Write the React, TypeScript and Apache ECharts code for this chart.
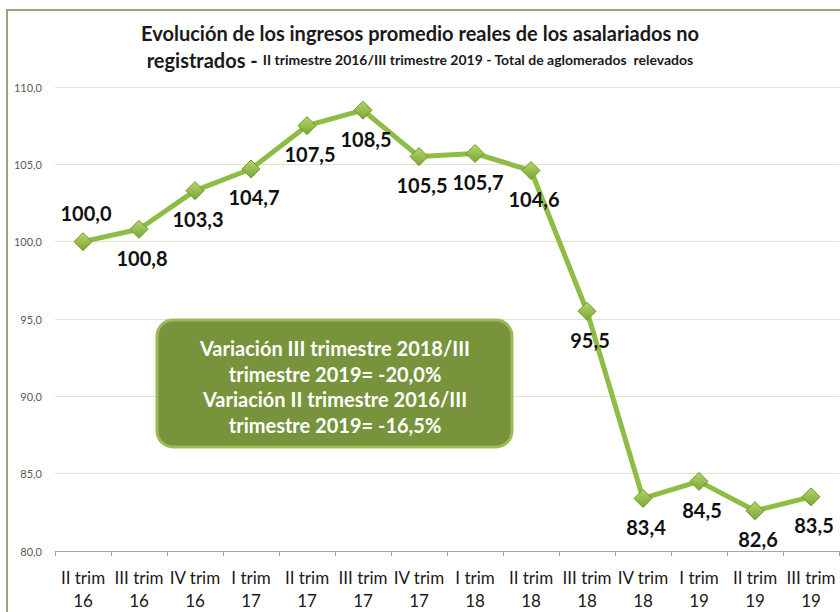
import React, { useEffect, useRef } from "react";
import * as echarts from "echarts";

const categories = [
  "II trim\n16", "III trim\n16", "IV trim\n16", "I trim\n17", "II trim\n17", "III trim\n17", "IV trim\n17",
  "I trim\n18", "II trim\n18", "III trim\n18", "IV trim\n18", "I trim\n19", "II trim\n19", "III trim\n19",
];
const values = [100.0, 100.8, 103.3, 104.7, 107.5, 108.5, 105.5, 105.7, 104.6, 95.5, 83.4, 84.5, 82.6, 83.5];
// label placement (position of each value label)
const labelPos = ["top", "bottom", "bottom", "bottom", "bottom", "bottom", "bottom", "bottom", "bottom", "bottom", "bottom", "bottom", "bottom", "bottom"];

const titleLine1 = "Evolución de los ingresos promedio reales de los asalariados no";
const titleLine2a = "registrados - ";
const titleLine2b = "II trimestre 2016/III trimestre 2019 - Total de aglomerados  relevados";
const boxLines = [
  "Variación III trimestre 2018/III",
  "trimestre 2019= -20,0%",
  "Variación II trimestre 2016/III",
  "trimestre 2019= -16,5%",
];

const FONT = "Lato, 'Open Sans', sans-serif";

export default function App() {
  const ref = useRef<HTMLDivElement>(null);
  useEffect(() => {
    if (!ref.current) return;
    const chart = echarts.init(ref.current, undefined, { renderer: "svg" });
    const fmt = (v: number) => v.toFixed(1).replace(".", ",");
    chart.setOption({
      animation: false,
      backgroundColor: "#ffffff",
      textStyle: { fontFamily: FONT },
      title: {
        left: "center",
        top: 14,
        text: `{a|${titleLine1}}\n{a|${titleLine2a}}{b|${titleLine2b}}`,
        textStyle: {
          rich: {
            a: { fontFamily: FONT, fontSize: 20, fontWeight: "bold", color: "#1a1a1a", lineHeight: 27 },
            b: { fontFamily: FONT, fontSize: 14, fontWeight: "bold", color: "#1a1a1a", lineHeight: 27 },
          },
        },
      },
      grid: { left: 55, right: 1, top: 87, bottom: 59, containLabel: false },
      xAxis: {
        type: "category",
        data: categories,
        boundaryGap: true,
        axisLine: { lineStyle: { color: "#a6a6a6", width: 1 } },
        axisTick: { show: true, length: 5, lineStyle: { color: "#a6a6a6" } },
        axisLabel: { color: "#1a1a1a", fontSize: 17, fontFamily: FONT, lineHeight: 23, margin: 15, interval: 0 },
      },
      yAxis: {
        type: "value",
        min: 80,
        max: 110,
        interval: 5,
        axisLine: { show: false },
        axisTick: { show: false },
        axisLabel: { color: "#595959", fontSize: 11, fontFamily: FONT, margin: 13, formatter: (v: number) => fmt(v) },
        splitLine: { lineStyle: { color: "#dfe3cf", width: 1 } },
      },
      graphic: [
        {
          type: "rect",
          shape: { x: 7, y: 10, width: 840, height: 620 },
          style: { fill: "none", stroke: "#9aa67a", lineWidth: 2 },
          silent: true,
          z: -1,
        },
        {
          type: "rect",
          shape: { x: 157, y: 320, width: 355, height: 127, r: 16 },
          style: { fill: "#77933c", stroke: "#9bbb59", lineWidth: 3 },
          z: 10,
        },
        ...boxLines.map((t, i) => ({
          type: "text",
          x: 335,
          y: 348 + i * 25.5,
          z: 11,
          style: {
            text: t,
            fill: "#ffffff",
            font: `bold 20px ${FONT}`,
            align: "center",
            verticalAlign: "middle",
          },
        })),
      ],
      series: [
        {
          type: "line",
          data: values.map((v, i) => ({
            value: v,
            label: { position: labelPos[i] },
          })),
          lineStyle: { color: "#8fbc45", width: 5 },
          symbol: "diamond",
          symbolSize: 18,
          itemStyle: {
            color: new echarts.graphic.LinearGradient(0, 0, 0, 1, [
              { offset: 0, color: "#b3d86a" },
              { offset: 1, color: "#7ea434" },
            ]),
            borderColor: "#6f952b",
            borderWidth: 1,
          },
          label: {
            show: true,
            distance: 9,
            offset: [3, 0],
            color: "#111111",
            fontSize: 20,
            fontWeight: "bold",
            fontFamily: FONT,
            formatter: (p: any) => fmt(p.value),
          },
          z: 5,
        },
      ],
    });
    return () => chart.dispose();
  }, []);
  return <div ref={ref} style={{ width: 840, height: 612, position: "absolute", left: 0, top: 0 }} />;
}
